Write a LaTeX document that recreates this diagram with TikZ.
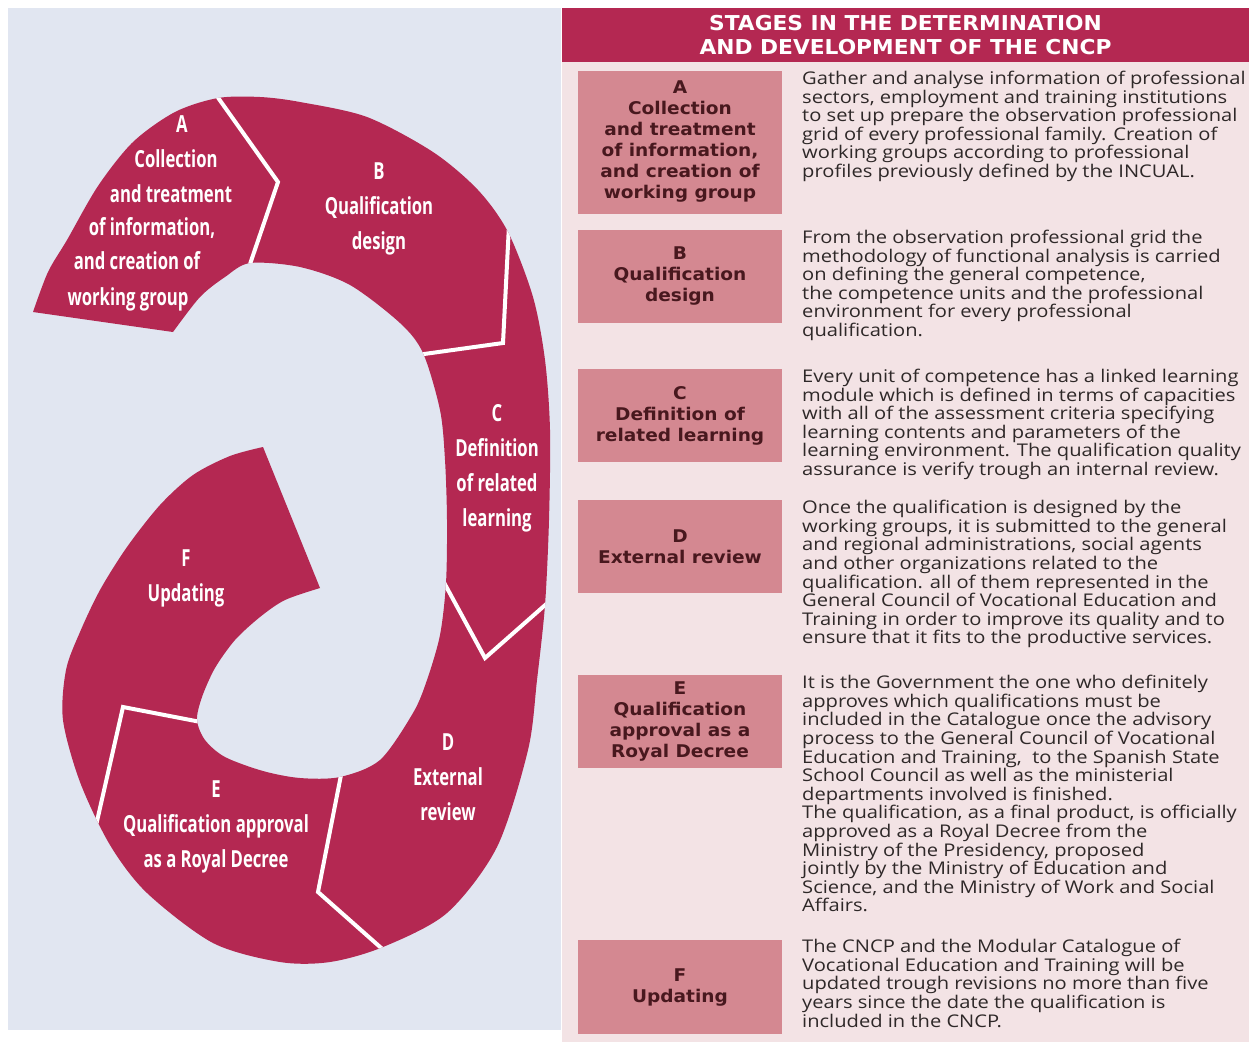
\documentclass[tikz,border=0pt]{standalone}
\usepackage{fontspec}
\setmainfont[FakeStretch=1.15]{Open Sans}
\newfontfamily\bandfont[FakeStretch=0.71]{Open Sans}
\newfontfamily\labelfont[FakeStretch=1.06]{DejaVu Sans}
\definecolor{crimson}{RGB}{180,40,82}
\definecolor{lavender}{RGB}{225,230,241}
\definecolor{blush}{RGB}{243,227,229}
\definecolor{rosebox}{RGB}{212,136,145}
\definecolor{maroontext}{RGB}{72,24,30}
\definecolor{greytext}{RGB}{46,40,40}

\tikzset{
  bandtext/.style={text=white, inner sep=0pt, align=center,
    font=\bandfont\bfseries\fontsize{23.5}{35}\selectfont},
  stagebox/.style={fill=rosebox, minimum width=204pt, inner sep=0pt, align=center,
    text=maroontext, font=\labelfont\bfseries\fontsize{17.5}{21}\selectfont},
  stagetext/.style={anchor=north west, inner sep=0pt, align=left,
    text=greytext, font=\fontsize{17.5}{18.6}\selectfont},
  cut/.style={white, line width=4pt, line join=miter}
}

% outline of the spiral band, A outer end round to the F tip and back
\newcommand\bandpath{plot[smooth] coordinates {(33,312) (48,272) (67,240) (98,186) (133,142) (175,112)
    (218,98) (260,97) (300,102) (367,117) (433,152) (478,190) (508,232) (533,297) (545,360)
    (550,430) (549,520) (545,605) (537,680) (528,750) (497,847) (447,913) (383,947) (330,962)
    (280,962) (213,943) (147,893) (110,845) (80,782) (63,720) (66,670) (80,632) (100,590)
    (127,547) (160,505) (193,475) (230,456) (263,447)}
  -- plot[smooth] coordinates {(320,588) (285,600) (260,617) (235,640) (215,668) (202,697)
    (197,720) (205,740) (225,757) (263,771) (300,778) (340,777) (380,760) (413,713) (427,680)
    (440,635) (446,583) (447,520) (445,460) (440,410) (423,353) (400,323) (350,285) (300,267)
    (250,263) (225,277) (200,297) (173,332)}
  -- cycle}

\begin{document}
\begin{tikzpicture}[x=1pt, y=-1pt]
  \useasboundingbox (0,0) rectangle (1249,1042);
  \fill[white] (0,0) rectangle (1249,1042);
  \fill[lavender] (8,8) rectangle (561,1030);
  \fill[blush] (562,62) rectangle (1249,1042);

  % the band and its cuts
  \fill[crimson] \bandpath;
  \begin{scope}
    \clip \bandpath;
    \coordinate (ab1) at (214,92);  \coordinate (ab2) at (278,182); \coordinate (ab3) at (248,270);
    \coordinate (bc1) at (509,225); \coordinate (bc2) at (503,343); \coordinate (bc3) at (417,355);
    \coordinate (cd1) at (441,577); \coordinate (cd2) at (485,658); \coordinate (cd3) at (552,599);
    \coordinate (de1) at (342,770); \coordinate (de2) at (318,892); \coordinate (de3) at (388,954);
    \coordinate (ef1) at (206,723); \coordinate (ef2) at (123,707); \coordinate (ef3) at (95,830);
    \draw[cut] (ab1) -- (ab2) -- (ab3);
    \draw[cut] (bc1) -- (bc2) -- (bc3);
    \draw[cut] (cd1) -- (cd2) -- (cd3);
    \draw[cut] (de1) -- (de2) -- (de3);
    \draw[cut] (ef1) -- (ef2) -- (ef3);
  \end{scope}

  % band labels
  \foreach \x/\y/\t [count=\i] in {182/124/A, 176/159/Collection, 171/194/and treatment,
      152/227/{of information,}, 137/261/{and creation of}, 128/297/working group}
    \node[bandtext, anchor=base] (bandA\i) at (\x,\y+8) {\t};
  \node[bandtext] (bandB) at (379,209) {B\\Qualification\\design};
  \node[bandtext] (bandC) at (497,468) {C\\Definition\\of related\\learning};
  \node[bandtext] (bandD) at (448,777) {D\\External\\review};
  \node[bandtext] (bandE) at (216,827) {E\\Qualification approval\\as a Royal Decree};
  \node[bandtext] (bandF) at (186,578) {F\\Updating};

  % table on the right
  \node[fill=crimson, minimum width=687pt, minimum height=54pt, inner sep=0pt, align=center,
    text=white, font=\labelfont\bfseries\fontsize{20.5}{24}\selectfont] (title) at (905.5,35)
    {STAGES IN THE DETERMINATION\\AND DEVELOPMENT OF THE CNCP};

  \node[stagebox, minimum height=143pt] (boxA) at (680,142)
    {A\\Collection\\and treatment\\of information,\\and creation of\\working group};
  \node[stagebox, minimum height=93pt] (boxB) at (680,276.5) {B\\Qualification\\design};
  \node[stagebox, minimum height=93pt] (boxC) at (680,415.5) {C\\Definition of\\related learning};
  \node[stagebox, minimum height=93pt] (boxD) at (680,546.5) {D\\External review};
  \node[stagebox, minimum height=93pt] (boxE) at (680,721.5) {E\\Qualification\\approval as a\\Royal Decree};
  \node[stagebox, minimum height=94pt] (boxF) at (680,987) {F\\Updating};

  \node[stagetext] (textA) at (802,71) {Gather and analyse information of professional\\
    sectors, employment and training institutions\\
    to set up prepare the observation professional\\
    grid of every professional family. Creation of\\
    working groups according to professional\\
    profiles previously defined by the INCUAL.};
  \node[stagetext] (textB) at (802,230) {From the observation professional grid the\\
    methodology of functional analysis is carried\\
    on defining the general competence,\\
    the competence units and the professional\\
    environment for every professional\\
    qualification.};
  \node[stagetext] (textC) at (802,369) {Every unit of competence has a linked learning\\
    module which is defined in terms of capacities\\
    with all of the assessment criteria specifying\\
    learning contents and parameters of the\\
    learning environment. The qualification quality\\
    assurance is verify trough an internal review.};
  \node[stagetext] (textD) at (802,500) {Once the qualification is designed by the\\
    working groups, it is submitted to the general\\
    and regional administrations, social agents\\
    and other organizations related to the\\
    qualification. all of them represented in the\\
    General Council of Vocational Education and\\
    Training in order to improve its quality and to\\
    ensure that it fits to the productive services.};
  \node[stagetext] (textE) at (802,675) {It is the Government the one who definitely\\
    approves which qualifications must be\\
    included in the Catalogue once the advisory\\
    process to the General Council of Vocational\\
    Education and Training, \ to the Spanish State\\
    School Council as well as the ministerial\\
    departments involved is finished.\\
    The qualification, as a final product, is officially\\
    approved as a Royal Decree from the\\
    Ministry of the Presidency, proposed\\
    jointly by the Ministry of Education and\\
    Science, and the Ministry of Work and Social\\
    Affairs.};
  \node[stagetext] (textF) at (802,939) {The CNCP and the Modular Catalogue of\\
    Vocational Education and Training will be\\
    updated trough revisions no more than five\\
    years since the date the qualification is\\
    included in the CNCP.};
\end{tikzpicture}
\end{document}
